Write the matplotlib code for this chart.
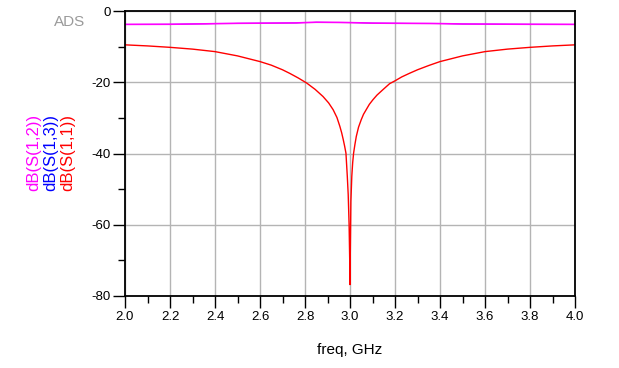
import matplotlib.pyplot as plt
import numpy as np

plt.rcParams["axes.unicode_minus"] = False

# values
freq_s11 = [2.0, 2.1, 2.2, 2.3, 2.4, 2.5, 2.6, 2.65, 2.7, 2.732, 2.77, 2.807, 2.845,
            2.88, 2.905, 2.925, 2.942, 2.955, 2.963, 2.970, 2.976, 2.982, 2.988,
            2.992, 2.996, 2.999, 3.0, 3.001, 3.004, 3.008, 3.012, 3.016, 3.022,
            3.028, 3.038, 3.05, 3.06, 3.072, 3.086, 3.102, 3.12, 3.146, 3.176,
            3.2, 3.23, 3.264, 3.3, 3.35, 3.4, 3.5, 3.6, 3.7, 3.8, 3.9, 4.0]
s11_db = [-9.5, -9.8, -10.2, -10.7, -11.4, -12.6, -14.2, -15.2, -16.5, -17.5, -18.8, -20.2, -22.0,
          -24.0, -25.8, -27.7, -29.9, -32.4, -34.2, -36.1, -37.9, -39.9, -46.4,
          -51.5, -60.0, -71.0, -76.8, -70.0, -53.4, -46.4, -42.5, -39.9, -37.4,
          -35.2, -32.6, -30.5, -29.0, -27.7, -26.2, -24.9, -23.6, -22.1, -20.4,
          -19.6, -18.5, -17.5, -16.5, -15.3, -14.2, -12.6, -11.4, -10.7, -10.2, -9.8, -9.5]

freq_s12 = [2.0, 2.2, 2.36, 2.5, 2.76, 2.85, 2.95, 3.1, 3.36, 3.5, 3.8, 4.0]
s12_db = [-3.75, -3.72, -3.6, -3.45, -3.35, -3.15, -3.2, -3.4, -3.5, -3.65, -3.72, -3.75]
s13_db = [-3.75, -3.72, -3.6, -3.45, -3.35, -3.15, -3.2, -3.4, -3.5, -3.65, -3.72, -3.75]

fig = plt.figure(figsize=(6.19, 3.68), dpi=100)
ax = fig.add_axes([125 / 619, 1 - 296 / 368, 450 / 619, 285 / 368])

ax.plot(freq_s12, s13_db, color="#0000ff", lw=0.5)
ax.plot(freq_s12, s12_db, color="#ff00ff", lw=1.2)
ax.plot(freq_s11, s11_db, color="#ff0000", lw=1.0)

ax.set_xlim(2.0, 4.0)
ax.set_ylim(-80, 0)
ax.set_xticks(np.arange(2.0, 4.01, 0.2))
ax.set_xticks(np.arange(2.1, 4.0, 0.2), minor=True)
ax.set_yticks([-80, -60, -40, -20, 0])
ax.set_yticks([-70, -50, -30, -10], minor=True)
ax.set_xticklabels(["%.1f" % v for v in np.arange(2.0, 4.01, 0.2)])
ax.grid(True, which="major", color="#b4b4b4", lw=1.0)
ax.set_axisbelow(True)

ax.tick_params(which="major", direction="out", length=8.5, width=1.0,
               labelsize=9.5, pad=2, colors="black")
ax.tick_params(which="minor", direction="out", length=5, width=1.0)
for s in ax.spines.values():
    s.set_linewidth(1.3)
for lab in ax.get_xticklabels() + ax.get_yticklabels():
    lab.set_fontfamily("Liberation Sans")

ax.set_xlabel("freq, GHz", fontsize=11, fontfamily="Liberation Sans", labelpad=15)

fig.text(70 / 619, 1 - 22 / 368, "ADS", color="#9a9a9a", fontsize=11,
         fontfamily="Liberation Sans", ha="center", va="center")

names = ["dB(S(1,2))", "dB(S(1,3))", "dB(S(1,1))"]
cols = ["#ff00ff", "#0000ff", "#ff0000"]
xs = [34, 51, 68]
for n, c, x in zip(names, cols, xs):
    fig.text(x / 619, 1 - 152 / 368, n, color=c, rotation=90, fontsize=12,
             fontfamily="Liberation Sans", ha="center", va="center")

plt.savefig("out.png", dpi=100)
